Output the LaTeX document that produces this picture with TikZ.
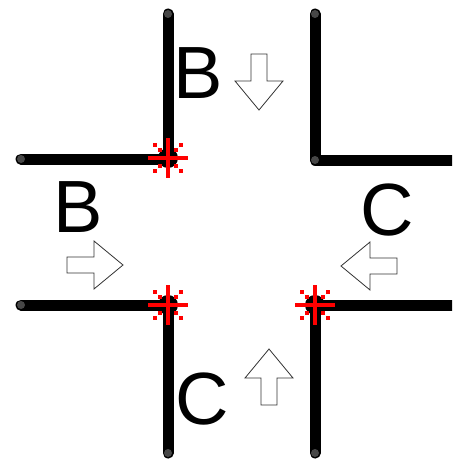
\documentclass[tikz,border=0pt]{standalone}
\usepackage{fontspec}
\setmainfont{Liberation Sans}

\tikzset{
  wall/.style={line width=11pt, line cap=round, line join=round},
  tip/.style={fill=black!72},
  letter/.style={anchor=base, inner sep=0pt, font=\fontsize{74}{80}\selectfont},
  hollow/.pic={\draw[draw=black!80, line width=0.8pt, fill=white]
    (0,-8) -- (27,-8) -- (27,-24) -- (56,0) -- (27,24) -- (27,8) -- (0,8) -- cycle;},
  burst/.pic={
    \fill[black] (0,0) circle (10);
    \draw[red, line width=4pt] (-20,0) -- (20,0) (0,-20) -- (0,20);
    \foreach \a in {45,135,225,315}{\foreach \r in {12,19}{
      \fill[red] (\a:\r) ++(-2,-2) rectangle ++(4,4);}}
  }
}

\begin{document}
\begin{tikzpicture}[x=1pt,y=-1pt]
  \useasboundingbox (0,0) rectangle (452,460);
  \clip (0,0) rectangle (452,460);

  % walls of the crossing
  \draw[wall] (168,14) -- (168,159) -- (21,159);
  \draw[wall] (315,14) -- (315,160) -- (470,160);
  \draw[wall] (21,305) -- (168,305) -- (168,453);
  \draw[wall] (470,305) -- (315,305) -- (315,453);
  \foreach \p in {(168,14),(21,159),(315,14),(315,160),(21,305),(168,453),(315,453)}{
    \fill[tip] \p circle (4);}

  % conflict points
  \foreach \p in {(168,158),(168,305),(315,305)}{\pic at \p {burst};}

  % traffic directions
  \pic[rotate=-90] at (259,54) {hollow};
  \pic at (67,265) {hollow};
  \pic[rotate=180] at (397,266) {hollow};
  \pic[rotate=90] at (269,405) {hollow};

  \node[letter] (top B) at (198,98) {B};
  \node[letter] (left B) at (78,232) {B};
  \node[letter] (right C) at (387,235) {C};
  \node[letter] (bottom C) at (202,424) {C};
\end{tikzpicture}
\end{document}
